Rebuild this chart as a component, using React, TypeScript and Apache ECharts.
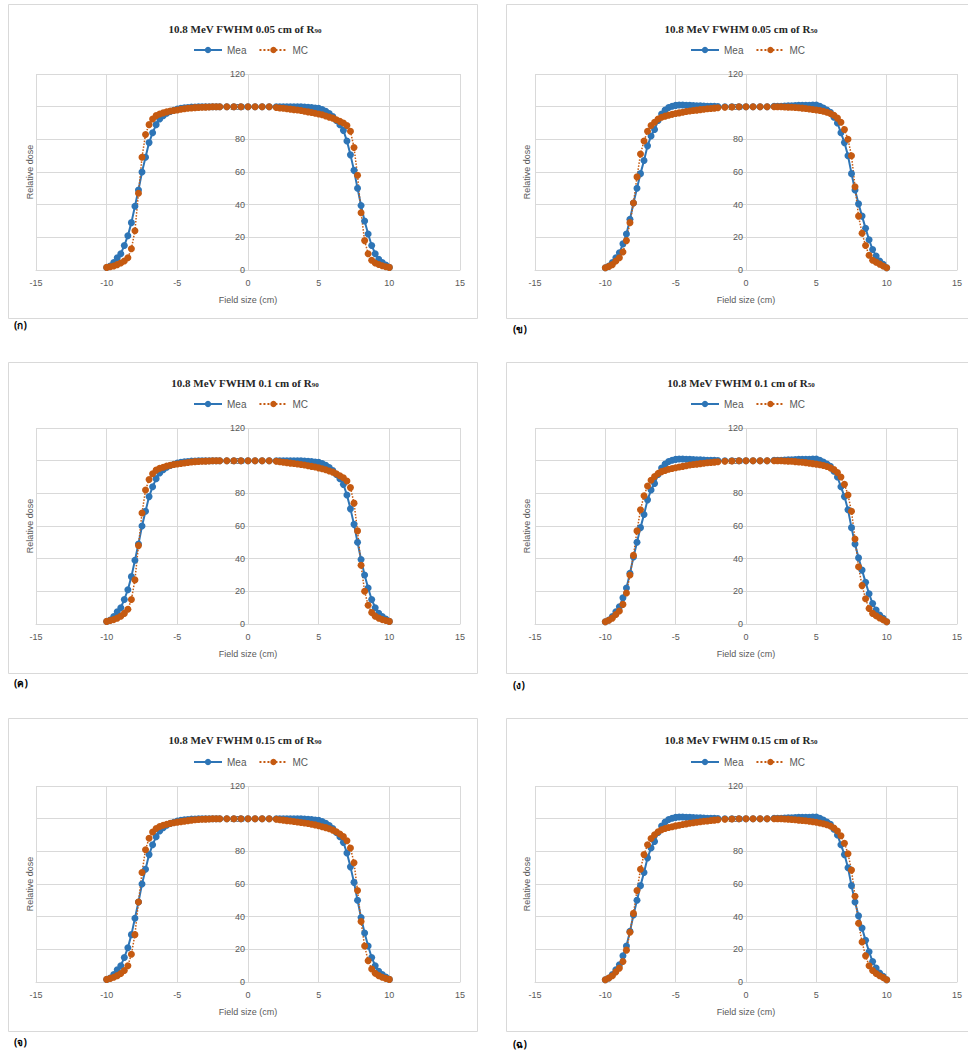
import React, { useEffect, useRef } from "react";
import * as echarts from "echarts";

// Field position (cm), shared by all series
const X_CM = [
  -10, -9.75, -9.5, -9.25, -9, -8.75, -8.5, -8.25, -8, -7.75, -7.5,
  -7.25, -7, -6.75, -6.5, -6.25, -6, -5.75, -5.5, -5.25, -5, -4.75,
  -4.5, -4.25, -4, -3.75, -3.5, -3.25, -3, -2.75, -2.5, -2.25, -2,
  -1.5, -1, -0.5, 0, 0.5, 1, 1.5,
  2, 2.25, 2.5, 2.75, 3, 3.25, 3.5, 3.75, 4, 4.25, 4.5,
  4.75, 5, 5.25, 5.5, 5.75, 6, 6.25, 6.5, 6.75, 7, 7.25,
  7.5, 7.75, 8, 8.25, 8.5, 8.75, 9, 9.25, 9.5, 9.75, 10,
];

const MEA_R90 = [
  1.5, 2.5, 4.5, 7.5, 10, 15, 21, 29, 39, 49, 60,
  69, 78, 84, 89, 92.5, 94.5, 96, 97, 97.8, 98.5, 99,
  99.3, 99.5, 99.7, 99.8, 99.9, 100, 100, 100, 100, 100, 100,
  100, 100, 100, 100, 100, 100, 100,
  100, 100, 100, 100, 100, 100, 100, 100, 99.8, 99.6, 99.4,
  99.2, 99, 98.3, 97.2, 95.8, 94, 91.5, 89, 85.5, 79, 70.5,
  61, 50, 39.5, 30, 22, 15, 10, 6.5, 4.5, 3, 1.6,
];

const MC_R90_005 = [
  1.6, 2, 2.5, 3.3, 4.3, 5.5, 7.5, 13, 24, 47, 69,
  83, 89, 92.5, 94.5, 95.5, 96.2, 96.8, 97.3, 97.7, 98, 98.4,
  98.7, 99, 99.2, 99.4, 99.5, 99.6, 99.7, 99.8, 99.9, 100, 100,
  100, 100, 100, 100, 100, 100, 100,
  99.5, 99.2, 99, 98.7, 98.5, 98.2, 98, 97.6, 97.2, 96.8, 96.4,
  96, 95.5, 95, 94.3, 93.6, 93, 92, 91, 90, 88.5, 85,
  75, 58, 35, 18, 10, 6, 4.3, 3.4, 2.6, 2, 1.6,
];

const MC_R90_010 = [
  1.6, 2.1, 2.7, 3.6, 4.8, 6.5, 9, 15, 27, 48, 68,
  82, 88.5, 92, 94.2, 95.3, 96, 96.7, 97.2, 97.6, 98, 98.3,
  98.6, 98.9, 99.2, 99.4, 99.5, 99.6, 99.7, 99.8, 99.9, 100, 100,
  100, 100, 100, 100, 100, 100, 100,
  99.6, 99.3, 99, 98.8, 98.5, 98.3, 98, 97.7, 97.3, 96.9, 96.5,
  96.1, 95.6, 95, 94.4, 93.7, 93, 92, 90.8, 89.5, 87.5, 83.5,
  74, 57, 36, 20, 11.5, 7, 4.8, 3.6, 2.7, 2.1, 1.6,
];

const MC_R90_015 = [
  1.6, 2.2, 2.9, 3.9, 5.2, 7, 10, 17, 29, 49, 67,
  81, 88, 91.8, 94, 95.2, 96, 96.6, 97.1, 97.5, 97.9, 98.2,
  98.5, 98.8, 99.1, 99.3, 99.5, 99.6, 99.7, 99.8, 99.9, 100, 100,
  100, 100, 100, 100, 100, 100, 100,
  99.6, 99.3, 99.1, 98.8, 98.6, 98.3, 98, 97.7, 97.4, 97, 96.6,
  96.2, 95.7, 95.1, 94.5, 93.8, 93, 92, 90.6, 89, 86.5, 82,
  73, 56, 37, 22, 13, 8, 5.3, 3.9, 2.9, 2.2, 1.6,
];

const MEA_R50 = [
  1.4, 2.5, 4.5, 7.5, 10.5, 16, 22, 31, 41, 50, 59,
  67, 76, 82, 86, 91.5, 95.5, 98, 99.5, 100.3, 100.8, 101,
  101, 100.9, 100.8, 100.7, 100.6, 100.5, 100.4, 100.3, 100.3, 100.2, 100.1,
  100, 100, 100, 100, 100, 100, 100,
  100.2, 100.3, 100.3, 100.4, 100.5, 100.6, 100.7, 100.8, 100.8, 100.9, 100.9,
  101, 101, 100.3, 99.2, 98, 96.5, 93.5, 90, 84, 78, 70,
  59, 49, 40.5, 33, 25.5, 18.5, 12.5, 8.5, 5.5, 3.5, 1.4,
];

const MC_R50_005 = [
  1.4, 2.2, 3.3, 5.5, 7.5, 11, 18, 29, 41, 57, 71,
  79, 85, 88.5, 90.5, 92.5, 93.5, 94.2, 94.8, 95.3, 95.8, 96.2,
  96.6, 97, 97.3, 97.6, 97.9, 98.2, 98.4, 98.7, 98.9, 99.1, 99.3,
  99.6, 99.8, 100, 100, 100, 100, 100,
  100, 100, 99.9, 99.8, 99.7, 99.6, 99.5, 99.3, 99.1, 98.9, 98.6,
  98.3, 98, 97.7, 97.2, 96.6, 95.8, 94.7, 93, 90.5, 86, 80,
  70, 51, 33, 22.5, 15, 9, 6, 4.8, 3.6, 2.5, 1.4,
];

const MC_R50_010 = [
  1.4, 2.3, 3.6, 5.8, 8, 12, 19, 30, 42, 57, 70,
  78.5, 84.5, 88, 90.3, 92.2, 93.3, 94, 94.7, 95.2, 95.7, 96.1,
  96.5, 96.9, 97.3, 97.6, 97.9, 98.2, 98.4, 98.7, 98.9, 99.1, 99.3,
  99.6, 99.8, 100, 100, 100, 100, 100,
  100, 100, 99.9, 99.8, 99.7, 99.6, 99.4, 99.2, 99, 98.8, 98.5,
  98.2, 97.9, 97.5, 97, 96.4, 95.6, 94.5, 92.8, 90, 85.5, 79,
  69, 52, 35, 23.5, 15.5, 9.5, 6.5, 5, 3.7, 2.6, 1.4,
];

const MC_R50_015 = [
  1.4, 2.4, 3.8, 6.2, 8.5, 12.5, 19.5, 30.5, 42, 56, 69,
  78, 84, 87.8, 90.2, 92, 93.2, 94, 94.6, 95.1, 95.6, 96,
  96.4, 96.8, 97.2, 97.5, 97.8, 98.1, 98.4, 98.6, 98.9, 99.1, 99.3,
  99.6, 99.8, 100, 100, 100, 100, 100,
  100, 100, 99.9, 99.8, 99.7, 99.5, 99.3, 99.1, 98.9, 98.7, 98.4,
  98.1, 97.8, 97.4, 96.9, 96.3, 95.5, 94.3, 92.5, 89.5, 85, 78.5,
  68.5, 52.5, 36, 24.5, 16, 10, 7, 5.2, 3.8, 2.7, 1.4,
];

const FWHM_LABELS = ["0.05", "0.05", "0.1", "0.1", "0.15", "0.15"];
const DEPTH_LABELS = ["90", "50", "90", "50", "90", "50"];
const PANEL_LABELS = ["(ก)", "(ข)", "(ค)", "(ง)", "(จ)", "(ฉ)"];
const MEA_SERIES = [MEA_R90, MEA_R50, MEA_R90, MEA_R50, MEA_R90, MEA_R50];
const MC_SERIES = [MC_R90_005, MC_R50_005, MC_R90_010, MC_R50_010, MC_R90_015, MC_R50_015];
const SERIES_NAMES = ["Mea", "MC"];
const X_AXIS = { min: -15, max: 15, interval: 5 };
const Y_AXIS = { min: 0, max: 120, interval: 20 };
const AXIS_TITLES = { x: "Field size (cm)", y: "Relative dose" };

// Layout
const COLS = [
  { gridLeft: 36, gridWidth: 424, boxX: 8, boxW: 469, titleX: 245, legendLeft: 193, yNameX: 30, labelX: 14 },
  { gridLeft: 535, gridWidth: 422, boxX: 506, boxW: 470, titleX: 741, legendLeft: 690, yNameX: 527, labelX: 513 },
];
const ROWS = [
  { gridTop: 74, titleY: 20, legendY: 45, boxTop: 4, boxBottom: 318, labelY: [325, 329] },
  { gridTop: 428, titleY: 374, legendY: 399, boxTop: 362, boxBottom: 673, labelY: [683, 685] },
  { gridTop: 786, titleY: 731, legendY: 757, boxTop: 718, boxBottom: 1031, labelY: [1042, 1044] },
];
const GRID_H = 196;

const MEA_COLOR = "#2e75b6";
const MC_COLOR = "#c55a11";
const GRID_COLOR = "#d9d9d9";
const LABEL_COLOR = "#595959";
const SANS = "'Liberation Sans', Arial, sans-serif";

export default function App() {
  const ref = useRef<HTMLDivElement>(null);

  useEffect(() => {
    if (!ref.current) return;
    const chart = echarts.init(ref.current, undefined, { renderer: "svg" });

    const grids: any[] = [];
    const xAxes: any[] = [];
    const yAxes: any[] = [];
    const series: any[] = [];
    const titles: any[] = [];
    const legends: any[] = [];
    const graphics: any[] = [];

    for (let p = 0; p < 6; p++) {
      const c = COLS[p % 2];
      const r = ROWS[Math.floor(p / 2)];
      grids.push({ left: c.gridLeft, top: r.gridTop, width: c.gridWidth, height: GRID_H, containLabel: false });
      xAxes.push({
        type: "value",
        gridIndex: p,
        min: X_AXIS.min,
        max: X_AXIS.max,
        interval: X_AXIS.interval,
        name: AXIS_TITLES.x,
        nameLocation: "middle",
        nameGap: 25,
        nameTextStyle: { color: LABEL_COLOR, fontSize: 9, fontFamily: SANS },
        axisLine: { show: true, onZero: false, lineStyle: { color: GRID_COLOR } },
        axisTick: { show: false },
        axisLabel: { color: LABEL_COLOR, fontSize: 9, fontFamily: SANS, margin: 8 },
        splitLine: { show: true, lineStyle: { color: GRID_COLOR, width: 1 } },
      });
      // y axis sits on x = 0 (middle of the grid)
      yAxes.push({
        type: "value",
        gridIndex: p,
        position: "left",
        offset: -c.gridWidth / 2,
        min: Y_AXIS.min,
        max: Y_AXIS.max,
        interval: Y_AXIS.interval,
        axisLine: { show: false },
        axisTick: { show: false },
        axisLabel: { color: LABEL_COLOR, fontSize: 9, fontFamily: SANS, margin: 3 },
        splitLine: { show: true, lineStyle: { color: GRID_COLOR, width: 1 } },
      });
      series.push({
        name: SERIES_NAMES[0],
        type: "line",
        xAxisIndex: p,
        yAxisIndex: p,
        data: X_CM.map((x, i) => [x, MEA_SERIES[p][i]]),
        symbol: "circle",
        symbolSize: 7,
        lineStyle: { color: MEA_COLOR, width: 2 },
        itemStyle: { color: MEA_COLOR },
      });
      series.push({
        name: SERIES_NAMES[1],
        type: "line",
        xAxisIndex: p,
        yAxisIndex: p,
        data: X_CM.map((x, i) => [x, MC_SERIES[p][i]]),
        symbol: "circle",
        symbolSize: 7,
        lineStyle: { color: MC_COLOR, width: 1.5, type: "dotted" },
        itemStyle: { color: MC_COLOR },
      });
      titles.push({
        text: `{a|10.8 MeV FWHM ${FWHM_LABELS[p]} cm of R}{s|${DEPTH_LABELS[p]}}`,
        left: c.titleX,
        top: r.titleY,
        textAlign: "center",
        padding: 0,
        textStyle: {
          rich: {
            a: { fontSize: 11, fontWeight: "bold", color: "#262626", fontFamily: "'Liberation Serif', serif", lineHeight: 14, verticalAlign: "bottom" },
            s: { fontSize: 7, fontWeight: "bold", color: "#262626", fontFamily: "'Liberation Serif', serif", lineHeight: 14, verticalAlign: "bottom", padding: [6, 0, 0, 0] },
          },
        },
      });
      legends.push({
        data: SERIES_NAMES,
        left: c.legendLeft,
        top: r.legendY,
        padding: 0,
        itemWidth: 28,
        itemHeight: 8,
        itemGap: 12,
        selectedMode: false,
        textStyle: { color: LABEL_COLOR, fontSize: 10, fontFamily: SANS },
      });
      graphics.push({
        type: "rect",
        shape: { x: c.boxX + 0.5, y: r.boxTop + 0.5, width: c.boxW, height: r.boxBottom - r.boxTop },
        style: { fill: "none", stroke: GRID_COLOR, lineWidth: 1 },
        silent: true,
      });
      graphics.push({
        type: "text",
        x: c.yNameX,
        y: r.gridTop + GRID_H / 2,
        rotation: Math.PI / 2,
        style: {
          text: AXIS_TITLES.y,
          fill: LABEL_COLOR,
          fontSize: 9,
          fontFamily: SANS,
          align: "center",
          verticalAlign: "middle",
        },
        silent: true,
      });
      graphics.push({
        type: "text",
        x: c.labelX,
        y: r.labelY[p % 2],
        style: {
          text: PANEL_LABELS[p],
          fill: "#000",
          fontSize: 10,
          fontWeight: "bold",
          fontFamily: "'Noto Sans', 'DejaVu Sans', sans-serif",
          align: "left",
          verticalAlign: "middle",
        },
        silent: true,
      });
    }

    chart.setOption({
      animation: false,
      backgroundColor: "#ffffff",
      title: titles,
      legend: legends,
      grid: grids,
      xAxis: xAxes,
      yAxis: yAxes,
      series,
      graphic: graphics,
    });

    return () => chart.dispose();
  }, []);

  return (
    <div
      ref={ref}
      style={{ position: "absolute", left: 0, top: 0, width: 968, height: 1052 }}
    />
  );
}
